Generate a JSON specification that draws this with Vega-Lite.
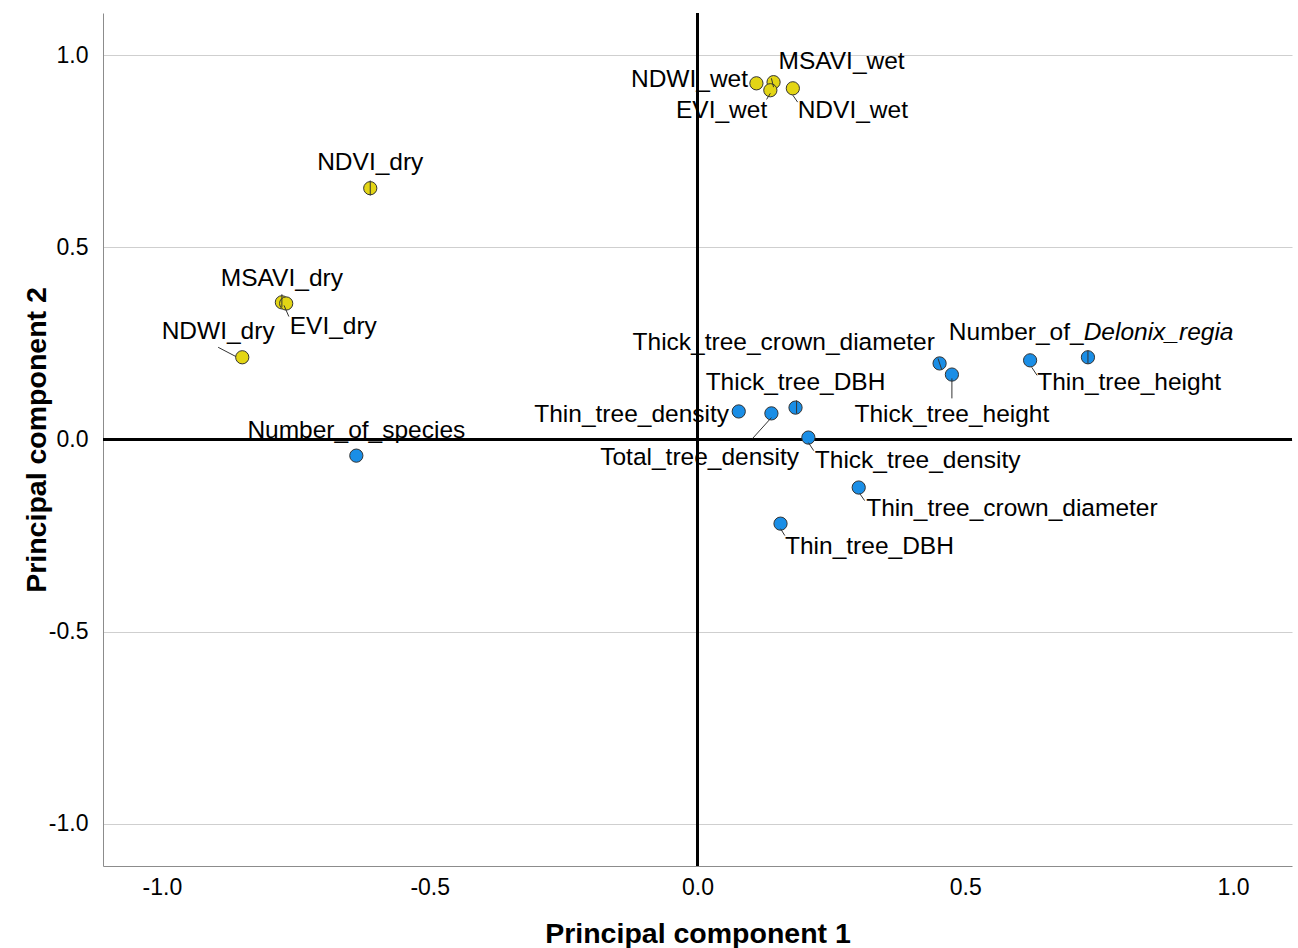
{
  "$schema": "https://vega.github.io/schema/vega-lite/v6.json",
  "width": 1189,
  "height": 853,
  "autosize": "none",
  "padding": {"left": 103, "top": 13, "right": 6, "bottom": 82},
  "background": "white",
  "config": {
    "view": {"stroke": null},
    "font": "Liberation Sans",
    "axis": {
      "labelFont": "Liberation Sans",
      "labelFontSize": 23,
      "labelColor": "#000000",
      "titleFont": "Liberation Sans",
      "titleFontSize": 28.5,
      "titleFontWeight": "bold",
      "titleColor": "#000000",
      "domainColor": "#8c8c8c",
      "domainWidth": 1,
      "ticks": false,
      "gridColor": "#cfcfcf",
      "gridWidth": 1
    }
  },
  "datasets": {
    "points": [
      {"name": "NDWI_wet", "group": "index", "pc1": 0.110, "pc2": 0.927},
      {"name": "MSAVI_wet", "group": "index", "pc1": 0.142, "pc2": 0.930},
      {"name": "EVI_wet", "group": "index", "pc1": 0.136, "pc2": 0.909},
      {"name": "NDVI_wet", "group": "index", "pc1": 0.178, "pc2": 0.914},
      {"name": "NDVI_dry", "group": "index", "pc1": -0.611, "pc2": 0.654},
      {"name": "MSAVI_dry", "group": "index", "pc1": -0.776, "pc2": 0.357},
      {"name": "EVI_dry", "group": "index", "pc1": -0.768, "pc2": 0.354},
      {"name": "NDWI_dry", "group": "index", "pc1": -0.850, "pc2": 0.214},
      {"name": "Number_of_species", "group": "tree", "pc1": -0.637, "pc2": -0.042},
      {"name": "Thick_tree_crown_diameter", "group": "tree", "pc1": 0.452, "pc2": 0.198},
      {"name": "Thick_tree_height", "group": "tree", "pc1": 0.475, "pc2": 0.169},
      {"name": "Thin_tree_density", "group": "tree", "pc1": 0.077, "pc2": 0.073},
      {"name": "Total_tree_density", "group": "tree", "pc1": 0.138, "pc2": 0.068},
      {"name": "Thick_tree_DBH", "group": "tree", "pc1": 0.183, "pc2": 0.083},
      {"name": "Thick_tree_density", "group": "tree", "pc1": 0.207, "pc2": 0.005},
      {"name": "Thin_tree_height", "group": "tree", "pc1": 0.621, "pc2": 0.206},
      {"name": "Number_of_Delonix_regia", "group": "tree", "pc1": 0.729, "pc2": 0.214},
      {"name": "Thin_tree_crown_diameter", "group": "tree", "pc1": 0.301, "pc2": -0.125},
      {"name": "Thin_tree_DBH", "group": "tree", "pc1": 0.155, "pc2": -0.219}
    ],
    "labels": [
      {"text": "NDWI_wet", "part": "c", "lx": -0.015, "ly": 0.935},
      {"text": "MSAVI_wet", "part": "c", "lx": 0.269, "ly": 0.982},
      {"text": "EVI_wet", "part": "c", "lx": 0.045, "ly": 0.854},
      {"text": "NDVI_wet", "part": "c", "lx": 0.290, "ly": 0.854},
      {"text": "NDVI_dry", "part": "c", "lx": -0.611, "ly": 0.719},
      {"text": "MSAVI_dry", "part": "c", "lx": -0.776, "ly": 0.419},
      {"text": "EVI_dry", "part": "c", "lx": -0.680, "ly": 0.294},
      {"text": "NDWI_dry", "part": "c", "lx": -0.895, "ly": 0.279},
      {"text": "Number_of_species", "part": "c", "lx": -0.637, "ly": 0.021},
      {"text": "Thick_tree_crown_diameter", "part": "c", "lx": 0.161, "ly": 0.250},
      {"text": "Thick_tree_height", "part": "c", "lx": 0.475, "ly": 0.063},
      {"text": "Thin_tree_density", "part": "c", "lx": -0.123, "ly": 0.063},
      {"text": "Total_tree_density", "part": "c", "lx": 0.004, "ly": -0.047},
      {"text": "Thick_tree_DBH", "part": "c", "lx": 0.183, "ly": 0.146},
      {"text": "Thick_tree_density", "part": "c", "lx": 0.411, "ly": -0.057},
      {"text": "Thin_tree_height", "part": "c", "lx": 0.806, "ly": 0.146},
      {"text": "Number_of_", "part": "r", "lx": 0.721, "ly": 0.276},
      {"text": "Delonix_regia", "part": "l", "lx": 0.721, "ly": 0.276},
      {"text": "Thin_tree_crown_diameter", "part": "c", "lx": 0.587, "ly": -0.182},
      {"text": "Thin_tree_DBH", "part": "c", "lx": 0.321, "ly": -0.279}
    ],
    "leaders": [
      {"name": "NDVI_dry", "x1": -0.611, "y1": 0.674, "x2": -0.611, "y2": 0.635},
      {"name": "MSAVI_dry", "x1": -0.776, "y1": 0.378, "x2": -0.776, "y2": 0.344},
      {"name": "EVI_dry", "x1": -0.772, "y1": 0.349, "x2": -0.763, "y2": 0.320},
      {"name": "NDWI_dry", "x1": -0.895, "y1": 0.240, "x2": -0.862, "y2": 0.216},
      {"name": "MSAVI_wet", "x1": 0.138, "y1": 0.940, "x2": 0.142, "y2": 0.917},
      {"name": "EVI_wet", "x1": 0.129, "y1": 0.885, "x2": 0.136, "y2": 0.901},
      {"name": "NDVI_wet", "x1": 0.178, "y1": 0.896, "x2": 0.187, "y2": 0.878},
      {"name": "Thick_tree_crown_diameter", "x1": 0.449, "y1": 0.211, "x2": 0.456, "y2": 0.182},
      {"name": "Thick_tree_height", "x1": 0.475, "y1": 0.159, "x2": 0.475, "y2": 0.107},
      {"name": "Thick_tree_DBH", "x1": 0.185, "y1": 0.102, "x2": 0.185, "y2": 0.068},
      {"name": "Total_tree_density", "x1": 0.138, "y1": 0.057, "x2": 0.103, "y2": 0.003},
      {"name": "Thick_tree_density", "x1": 0.207, "y1": -0.008, "x2": 0.217, "y2": -0.029},
      {"name": "Number_of_Delonix_regia", "x1": 0.729, "y1": 0.232, "x2": 0.729, "y2": 0.198},
      {"name": "Thin_tree_height", "x1": 0.624, "y1": 0.188, "x2": 0.634, "y2": 0.167},
      {"name": "Thin_tree_crown_diameter", "x1": 0.303, "y1": -0.141, "x2": 0.312, "y2": -0.159},
      {"name": "Thin_tree_DBH", "x1": 0.155, "y1": -0.232, "x2": 0.163, "y2": -0.250}
    ]
  },
  "layer": [
    {
      "data": {"name": "points"},
      "mark": {"type": "point", "opacity": 0},
      "encoding": {
        "x": {
          "field": "pc1", "type": "quantitative",
          "scale": {"domain": [-1.11, 1.11], "nice": false, "zero": false},
          "axis": {
            "title": "Principal component 1",
            "values": [-1, -0.5, 0, 0.5, 1],
            "format": ".1f",
            "labelExpr": "replace(datum.label, '\u2212', '-')",
            "grid": false,
            "labelPadding": 10,
            "titlePadding": 20
          }
        },
        "y": {
          "field": "pc2", "type": "quantitative",
          "scale": {"domain": [-1.11, 1.11], "nice": false, "zero": false},
          "axis": {
            "title": "Principal component 2",
            "values": [-1, -0.5, 0, 0.5, 1],
            "format": ".1f",
            "labelExpr": "replace(datum.label, '\u2212', '-')",
            "grid": true,
            "labelPadding": 15,
            "titlePadding": -3
          }
        }
      }
    },
    {
      "data": {"values": [{"v": 0}]},
      "mark": {"type": "rule", "color": "#000000", "strokeWidth": 3},
      "encoding": {"x": {"field": "v", "type": "quantitative"}}
    },
    {
      "data": {"values": [{"v": 0}]},
      "mark": {"type": "rule", "color": "#000000", "strokeWidth": 3},
      "encoding": {"y": {"field": "v", "type": "quantitative"}}
    },
    {
      "data": {"name": "points"},
      "mark": {"type": "circle", "size": 175, "opacity": 1, "stroke": "#333333", "strokeWidth": 1},
      "encoding": {
        "x": {"field": "pc1", "type": "quantitative"},
        "y": {"field": "pc2", "type": "quantitative"},
        "color": {
          "field": "group", "type": "nominal",
          "scale": {"domain": ["index", "tree"], "range": ["#e3d515", "#1a8ee6"]},
          "legend": null
        }
      }
    },
    {
      "data": {"name": "leaders"},
      "mark": {"type": "rule", "color": "#333333", "strokeWidth": 1},
      "encoding": {
        "x": {"field": "x1", "type": "quantitative"},
        "y": {"field": "y1", "type": "quantitative"},
        "x2": {"field": "x2"},
        "y2": {"field": "y2"}
      }
    },
    {
      "data": {"name": "labels"},
      "transform": [{"filter": "datum.part === 'c'"}],
      "mark": {"type": "text", "font": "Liberation Sans", "fontSize": 24.5, "color": "#000000", "align": "center", "baseline": "middle"},
      "encoding": {
        "x": {"field": "lx", "type": "quantitative"},
        "y": {"field": "ly", "type": "quantitative"},
        "text": {"field": "text"}
      }
    },
    {
      "data": {"name": "labels"},
      "transform": [{"filter": "datum.part === 'r'"}],
      "mark": {"type": "text", "font": "Liberation Sans", "fontSize": 24.5, "color": "#000000", "align": "right", "baseline": "middle"},
      "encoding": {
        "x": {"field": "lx", "type": "quantitative"},
        "y": {"field": "ly", "type": "quantitative"},
        "text": {"field": "text"}
      }
    },
    {
      "data": {"name": "labels"},
      "transform": [{"filter": "datum.part === 'l'"}],
      "mark": {"type": "text", "font": "Liberation Sans", "fontSize": 24.5, "fontStyle": "italic", "color": "#000000", "align": "left", "baseline": "middle"},
      "encoding": {
        "x": {"field": "lx", "type": "quantitative"},
        "y": {"field": "ly", "type": "quantitative"},
        "text": {"field": "text"}
      }
    }
  ]
}
